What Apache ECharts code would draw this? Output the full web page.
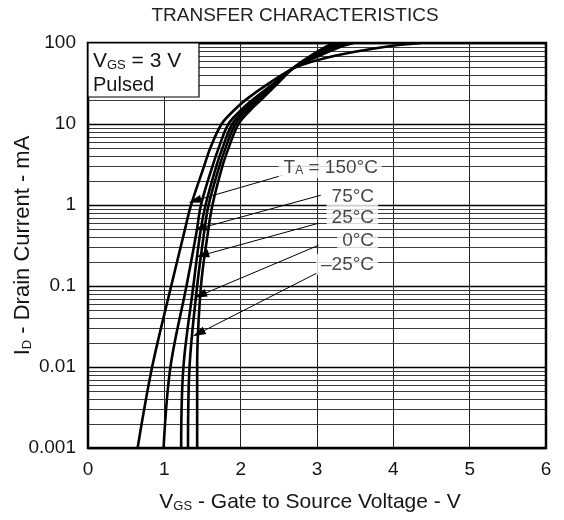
<!DOCTYPE html>
<html><head><meta charset="utf-8">
<script src="https://cdn.jsdelivr.net/npm/echarts@6/dist/echarts.min.js"></script>
<style>html,body{margin:0;padding:0;background:#fff}#c{width:564px;height:520px}</style>
</head><body><div id="c"></div>
<script>
// ---- data (VGS in V, ID in mA) ----
const seriesNames = ['150°C', '75°C', '25°C', '0°C', '–25°C'];
const curve150 = [[0.65,0.001],[0.84,0.01],[1.09,0.1],[1.27,0.5],[1.35,1],[1.52,3],[1.60,5],[1.75,10],[1.92,15],[2.07,20],[2.33,30],[2.72,50],[3.25,70],[3.90,90],[4.36,100]];
const curve75  = [[0.99,0.001],[1.08,0.01],[1.29,0.1],[1.42,0.45],[1.48,1],[1.63,3],[1.71,5],[1.84,10],[2.01,15],[2.16,20],[2.40,30],[2.70,50],[3.04,70],[3.31,90],[3.48,100]];
const curve25  = [[1.22,0.001],[1.25,0.01],[1.38,0.1],[1.47,0.45],[1.54,1],[1.68,3],[1.76,5],[1.89,10],[2.05,15],[2.20,20],[2.42,30],[2.70,50],[2.99,70],[3.23,90],[3.40,100]];
const curve0   = [[1.31,0.001],[1.33,0.01],[1.43,0.1],[1.52,0.45],[1.58,1],[1.72,3],[1.80,5],[1.93,10],[2.09,15],[2.24,20],[2.44,30],[2.70,50],[2.95,70],[3.17,90],[3.32,100]];
const curveM25 = [[1.43,0.001],[1.43,0.01],[1.48,0.1],[1.57,0.45],[1.63,1],[1.76,3],[1.84,5],[1.97,10],[2.13,15],[2.27,20],[2.46,30],[2.70,50],[2.92,70],[3.12,90],[3.24,100]];
const curves = [curve150, curve75, curve25, curve0, curveM25];

const yTickLabels = ['0.001', '0.01', '0.1', '1', '10', '100'];
const decades = [0.001, 0.01, 0.1, 1, 10];
const minorSteps = [2, 3, 4, 5, 6, 7, 8, 9];

// annotation texts and anchor points (data space)
const labelTexts = ['{a|T}{s|A}{a| = 150°C}', '75°C', '25°C', '0°C', '–25°C'];
const labelAnchors = [[3.85, 2.89], [3.80, 1.28], [3.80, 0.70], [3.80, 0.362], [3.80, 0.185]];
const arrowStarts = [[2.55, 2.33], [3.05, 1.32], [3.02, 0.596], [3.02, 0.318], [3.02, 0.148]];
const arrowEnds   = [[1.40, 1.13], [1.47, 0.516], [1.50, 0.24], [1.47, 0.0767], [1.45, 0.026]];

const FONT = '"Liberation Sans", Arial, Helvetica, sans-serif';
const TXT = '#151515';

const minorValues = [];
decades.forEach(d => minorSteps.forEach(k => minorValues.push(+(d * k).toPrecision(3))));

const chart = echarts.init(document.getElementById('c'), null, {renderer: 'canvas'});

const lineSeries = curves.map((c, i) => ({
  type: 'line', name: seriesNames[i], data: c, showSymbol: false, smooth: 0.35,
  silent: true, z: 4, animation: false,
  lineStyle: {color: '#000', width: 2.6}
}));

const option = {
  animation: false,
  backgroundColor: '#fff',
  grid: {left: 88, right: 18, top: 43, bottom: 72, show: true, borderColor: '#000', borderWidth: 2.5, z: 6,
         containLabel: false, outerBoundsMode: 'none'},
  xAxis: {
    type: 'value', min: 0, max: 6, interval: 1,
    axisLine: {show: false}, axisTick: {show: false},
    splitLine: {show: true, lineStyle: {color: '#222', width: 1}},
    axisLabel: {fontSize: 19, color: TXT, margin: 12, fontFamily: FONT},
    name: '{a|V}{s|GS}{a| - Gate to Source Voltage - V}',
    nameLocation: 'middle', nameGap: 44, nameMoveOverlap: false,
    nameTextStyle: {fontFamily: FONT, color: TXT, padding: [0, 14, 0, 0], rich: {
      a: {fontSize: 21, fontFamily: FONT, color: TXT, verticalAlign: 'bottom'},
      s: {fontSize: 13, fontFamily: FONT, color: TXT, verticalAlign: 'bottom'}}}
  },
  yAxis: {
    type: 'log', logBase: 10, min: 0.001, max: 100,
    axisLine: {show: false}, axisTick: {show: false},
    splitLine: {show: true, lineStyle: {color: '#000', width: 1.3}},
    axisLabel: {fontSize: 19, color: TXT, margin: 12, fontFamily: FONT,
      formatter: v => yTickLabels[Math.round(Math.log10(v)) + 3]},
    name: '{a|I}{s|D}{a| - Drain Current - mA}',
    nameLocation: 'middle', nameGap: 54, nameRotate: 90, nameMoveOverlap: false,
    nameTextStyle: {fontFamily: FONT, color: TXT, rich: {
      a: {fontSize: 22, fontFamily: FONT, color: TXT, verticalAlign: 'bottom'},
      s: {fontSize: 13, fontFamily: FONT, color: TXT, verticalAlign: 'bottom'}}}
  },
  graphic: [
    {type: 'text', x: 295, y: 16, z: 10,
     style: {text: 'TRANSFER CHARACTERISTICS', fill: '#222', font: '19px ' + FONT, textAlign: 'center', textVerticalAlign: 'middle'}},
    {type: 'rect', z: 10, shape: {x: 88, y: 43, width: 111, height: 54},
     style: {fill: '#fff', stroke: '#000', lineWidth: 1.2}},
    {type: 'text', x: 93, y: 61, z: 11,
     style: {text: '{a|V}{s|GS}{a| = 3 V}', textVerticalAlign: 'middle', fill: TXT,
       rich: {a: {fontSize: 21, fontFamily: FONT, fill: TXT, verticalAlign: 'bottom'},
              s: {fontSize: 13, fontFamily: FONT, fill: TXT, verticalAlign: 'bottom'}}}},
    {type: 'text', x: 93, y: 85, z: 11,
     style: {text: 'Pulsed', font: '20px ' + FONT, fill: TXT, textVerticalAlign: 'middle'}}
  ],
  series: [
    {type: 'custom', data: minorValues.map(v => [0, v]), silent: true, z: 1, clip: true,
     encode: {x: 0, y: 1},
     renderItem: (params, api) => {
       const v = api.value(1);
       const a = api.coord([0, v]);
       const b = api.coord([6, v]);
       const y = Math.round(a[1]) + 0.5;
       return {type: 'line', shape: {x1: a[0], y1: y, x2: b[0], y2: y},
               style: {stroke: '#3a3a3a', lineWidth: 1}};
     }},
    ...lineSeries,
    {type: 'line', data: [], silent: true, z: 5,
     markLine: {silent: true, symbol: ['none', 'triangle'], symbolSize: [8, 13], animation: false,
       label: {show: false}, lineStyle: {color: '#000', width: 1, type: 'solid'},
       data: arrowStarts.map((s, i) => [{coord: s}, {coord: arrowEnds[i]}])}},
    {type: 'scatter', data: labelAnchors, symbolSize: 0, silent: true, z: 7,
     label: {show: true, position: 'left', distance: 0,
       formatter: p => labelTexts[p.dataIndex],
       backgroundColor: '#fff', padding: [1, 4, 1, 5],
       fontSize: 19, fontFamily: FONT, color: TXT,
       rich: {a: {fontSize: 19, fontFamily: FONT, color: TXT, verticalAlign: 'bottom'},
              s: {fontSize: 12, fontFamily: FONT, color: TXT, verticalAlign: 'bottom'}}}}
  ]
};
chart.setOption(option);
</script></body></html>
